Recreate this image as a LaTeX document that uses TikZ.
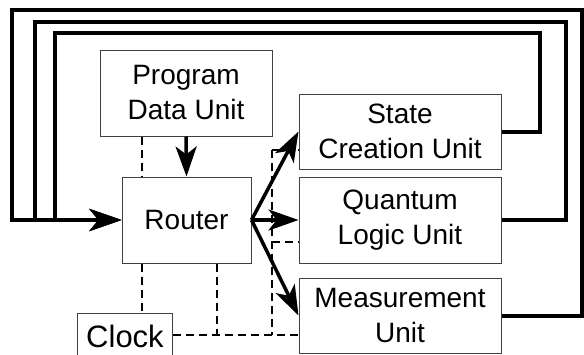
\documentclass[tikz,border=0pt]{standalone}
\usepackage{fontspec}
\setmainfont{Liberation Sans}
\usetikzlibrary{arrows.meta}
\tikzset{
  unit/.style={draw=black!75, line width=1pt, rectangle, inner sep=0pt, align=center,
    font=\fontsize{28}{35}\selectfont},
  loopline/.style={line width=4pt, line join=miter, -{Stealth[length=32pt,width=22pt,inset=9pt]}},
  feed/.style={line width=3.5pt, -{Stealth[length=30pt,width=21pt,inset=8pt]}},
  dashline/.style={line width=1.5pt, dash pattern=on 8pt off 5pt}
}
\begin{document}
\begin{tikzpicture}[x=1pt,y=-1pt]
\useasboundingbox (0,0) rectangle (584,354);
\clip (0,0) rectangle (584,354);
\node[unit, minimum width=172pt, minimum height=86pt] (pdu) at (186,93) {Program\\Data Unit};
\node[unit, minimum width=129pt, minimum height=86pt] (router) at (186.5,220) {Router};
\node[unit, minimum width=202pt, minimum height=75pt] (scu) at (400,131.5) {State\\Creation Unit};
\node[unit, minimum width=202pt, minimum height=86pt] (qlu) at (400,220) {Quantum\\Logic Unit};
\node[unit, minimum width=202pt, minimum height=75pt] (mu) at (400,315.5) {Measurement\\Unit};
\node[unit, minimum width=95pt, minimum height=47pt, font=\fontsize{31}{36}\selectfont] (clock) at (125,336.5) {Clock};
% coordinates
\coordinate (in1) at (55,220);
\coordinate (in2) at (35,220);
\coordinate (in3) at (12,220);
\coordinate (c1) at (540,33);
\coordinate (c2) at (566,22);
\coordinate (c3) at (582,10);
\coordinate (dx1) at (142,0);
\coordinate (dx2) at (217,0);
\coordinate (bt) at (272,150);
\coordinate (bm) at (272,242);
\coordinate (bb) at (272,335);
% feedback loops
\draw[loopline] (scu.east) -| (c1) -| (in1) -- (router.west);
\draw[loopline] (qlu.east) -| (c2) -| (in2) -- (router.west);
\draw[loopline] (mu.east) -| (c3) -| (in3) -- (router.west);
% dashed control lines
\draw[dashline] (pdu.south -| dx1) -- (router.north -| dx1);
\draw[dashline] (router.south -| dx1) -- (clock.north -| dx1);
\draw[dashline] (router.south -| dx2) -- (dx2 |- bb);
\draw[dashline] (clock.east |- bb) -- (mu.west |- bb);
\draw[dashline] (bt) -- (bb);
\draw[dashline] (bt) -- (scu.west |- bt);
\draw[dashline] (bm) -- (qlu.west |- bm);
% data arrows
\draw[feed] (pdu.south) -- (router.north);
\draw[feed] (router.east) -- (scu.west);
\draw[feed] (router.east) -- (qlu.west);
\draw[feed] (router.east) -- (mu.west);
\end{tikzpicture}
\end{document}
